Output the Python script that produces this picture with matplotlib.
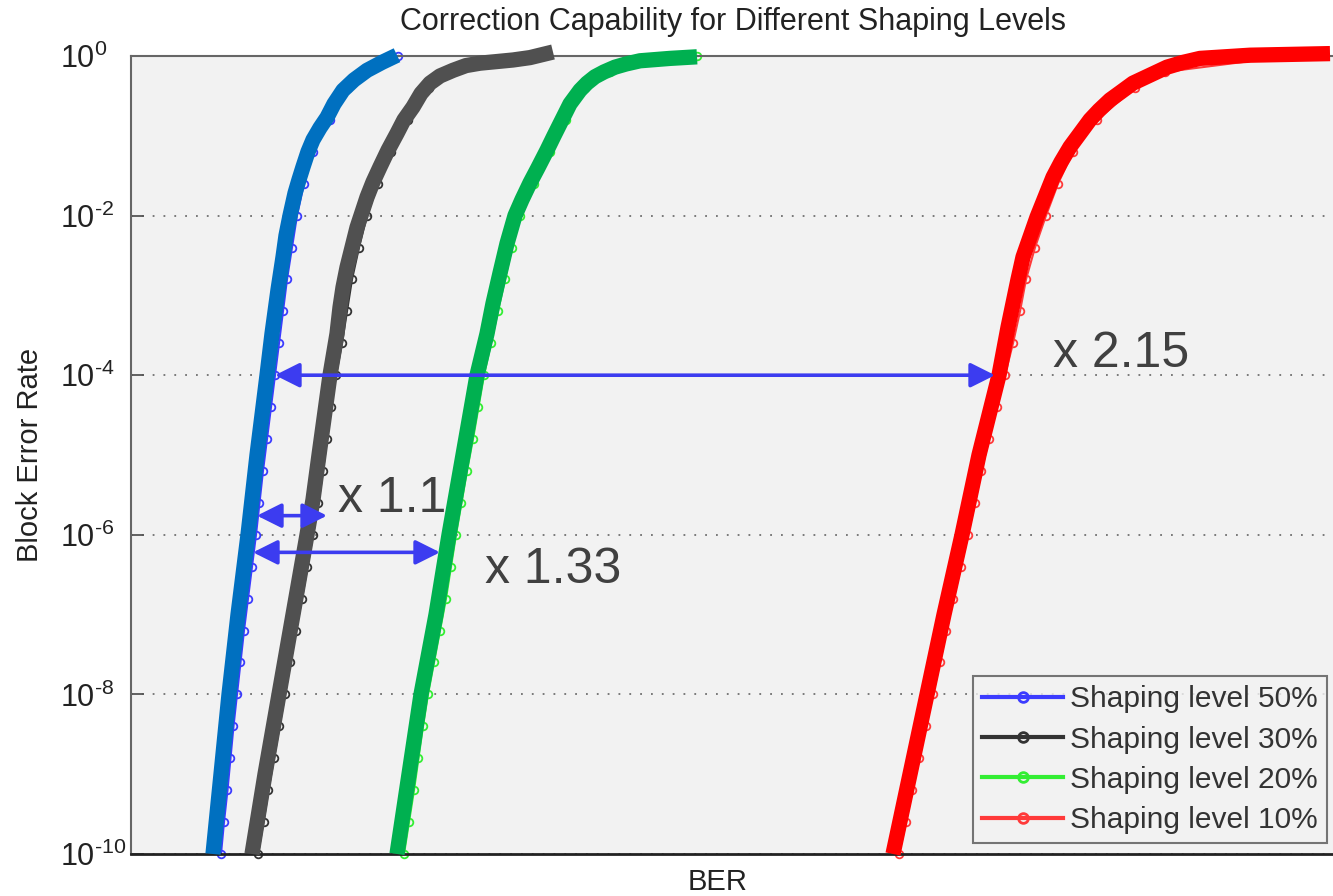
import numpy as np
import matplotlib
matplotlib.use("Agg")
import matplotlib.pyplot as plt

plt.rcParams['font.family'] = ['Liberation Sans', 'DejaVu Sans']
plt.rcParams['mathtext.fontset'] = 'custom'
plt.rcParams['mathtext.rm'] = 'Liberation Sans'
plt.rcParams['mathtext.it'] = 'Liberation Sans:italic'
plt.rcParams['mathtext.bf'] = 'Liberation Sans:bold'
plt.rcParams['axes.unicode_minus'] = False

# ---------------- data (BER in units of 1e-3, BLER as log10 exponent) ----------------
labels = ["Shaping level 50%", "Shaping level 30%", "Shaping level 20%", "Shaping level 10%"]

# measured points (thin line + circle markers)
meas_exp = [-10, -9.6, -9.2, -8.8, -8.4, -8.0, -7.6, -7.2, -6.8, -6.4, -6.0, -5.6, -5.2,
            -4.8, -4.4, -4.0, -3.6, -3.2, -2.8, -2.4, -2.0, -1.6, -1.2, -0.8, -0.4, -0.2, 0.0]
meas_50 = [5.81, 5.84, 5.875, 5.905, 5.935, 5.97, 6.005, 6.04, 6.08, 6.12, 6.16, 6.195, 6.23,
           6.27, 6.31, 6.35, 6.39, 6.43, 6.47, 6.52, 6.57, 6.64, 6.73, 6.90, 7.08, 7.22, 7.58]
meas_30 = [6.18, 6.235, 6.285, 6.34, 6.395, 6.45, 6.505, 6.56, 6.62, 6.675, 6.73, 6.785, 6.83,
           6.87, 6.91, 6.96, 7.02, 7.07, 7.12, 7.19, 7.27, 7.38, 7.51, 7.68, 7.89, 8.07, 8.90]
meas_20 = [7.64, 7.69, 7.74, 7.785, 7.83, 7.88, 7.94, 8.00, 8.06, 8.11, 8.16, 8.215, 8.27,
           8.33, 8.385, 8.44, 8.51, 8.58, 8.65, 8.72, 8.80, 8.94, 9.10, 9.26, 9.45, 9.70, 10.57]
meas_10 = [12.59, 12.66, 12.725, 12.795, 12.86, 12.93, 13.00, 13.065, 13.135, 13.21, 13.28, 13.35, 13.415,
           13.49, 13.57, 13.65, 13.73, 13.80, 13.86, 13.95, 14.06, 14.18, 14.33, 14.57, 14.95, 15.25, 16.50]

# fitted (thick) curves
fit50_exp = [0.01, -0.08, -0.18, -0.3, -0.43, -0.6, -0.77, -0.9, -1.05, -1.2, -1.39, -1.55,
             -1.72, -2.0, -2.25, -2.52, -2.93, -3.48, -4, -5, -6, -7, -8, -9, -10]
fit50_ber = [7.57, 7.42, 7.27, 7.14, 7.03, 6.94, 6.87, 6.80, 6.73, 6.68, 6.63, 6.59,
             6.55, 6.50, 6.46, 6.43, 6.38, 6.32, 6.27, 6.17, 6.08, 5.98, 5.89, 5.81, 5.73]
fit30_exp = [0.05, -0.02, -0.05, -0.09, -0.12, -0.18, -0.25, -0.34, -0.47, -0.64, -0.8, -0.97,
             -1.18, -1.39, -1.58, -1.77, -1.96, -2.15, -2.4, -2.65, -2.9, -3.15, -3.48, -4, -5,
             -5.56, -6, -7, -8, -9, -10]
fit30_ber = [9.13, 8.90, 8.73, 8.40, 8.26, 8.13, 8.00, 7.90, 7.81, 7.73, 7.64, 7.57,
             7.48, 7.40, 7.33, 7.27, 7.22, 7.17, 7.12, 7.07, 7.03, 7.00, 6.97, 6.90, 6.79,
             6.73, 6.67, 6.53, 6.39, 6.25, 6.12]
fit20_exp = [-0.01, -0.03, -0.06, -0.1, -0.14, -0.2, -0.26, -0.34, -0.43, -0.6, -0.8, -1.0,
             -1.18, -1.4, -1.59, -1.8, -2.0, -2.35, -2.72, -3.1, -3.48, -4, -5, -6, -7, -8, -9, -10]
fit20_ber = [10.57, 10.30, 10.00, 9.86, 9.75, 9.64, 9.55, 9.47, 9.40, 9.30, 9.22, 9.14,
             9.07, 8.98, 8.90, 8.82, 8.75, 8.67, 8.60, 8.53, 8.47, 8.37, 8.23, 8.09, 7.96, 7.81, 7.69, 7.57]
fit10_exp = [0.03, 0.02, 0.01, -0.01, -0.03, -0.08, -0.14, -0.24, -0.34, -0.45, -0.55, -0.68,
             -0.80, -0.97, -1.14, -1.33, -1.52, -1.77, -2.02, -2.27, -2.52, -2.8, -3.10, -3.40,
             -4, -5, -6, -7, -8, -9, -10]
fit10_ber = [16.90, 16.50, 16.10, 15.85, 15.60, 15.43, 15.27, 15.10, 14.93, 14.81, 14.70, 14.59,
             14.50, 14.40, 14.30, 14.21, 14.13, 14.05, 13.97, 13.90, 13.83, 13.78, 13.73, 13.68,
             13.59, 13.39, 13.22, 13.04, 12.87, 12.70, 12.53]

# annotations
arrows = [(6.35, 13.55, -4.0), (6.17, 6.87, -5.76), (6.13, 8.00, -6.22)]
notes = [("x 2.15", 14.13, -3.90), ("x 1.1", 6.98, -5.72), ("x 1.33", 8.45, -6.61)]

yticks_exp = [0, -2, -4, -6, -8, -10]

# ---------------- figure ----------------
W, H = 1333, 896
fig = plt.figure(figsize=(W / 100, H / 100), dpi=100)
left_px, right_px, top_px, bot_px = 131, 1345, 56, 854
ax = fig.add_axes([left_px / W, (H - bot_px) / H, (right_px - left_px) / W, (bot_px - top_px) / H])
ax.set_facecolor('#f2f2f2')
ax.set_yscale('log')
ax.set_ylim(1e-10, 1e0)
ax.set_xlim((left_px + 360) / 100, (right_px + 360) / 100)

meas_cols = ['#3c3cff', '#333333', '#33ee33', '#ff3a3a']
fit_cols = ['#0070c0', '#505050', '#00b050', '#ff0000']
meas = [meas_50, meas_30, meas_20, meas_10]
fits = [(fit50_ber, fit50_exp), (fit30_ber, fit30_exp), (fit20_ber, fit20_exp), (fit10_ber, fit10_exp)]

for m, c, lab in zip(meas, meas_cols, labels):
    ax.plot(m, 10.0 ** np.array(meas_exp), color=c, lw=1.5, marker='o', ms=5.5,
            mfc='none', mec=c, mew=1.3, label=lab, zorder=2, clip_on=False)
for (fx, fe), c in zip(fits, fit_cols):
    ax.plot(fx, 10.0 ** np.array(fe), color=c, lw=11, solid_capstyle='butt',
            solid_joinstyle='round', zorder=3, clip_on=False)

for x1, x2, e in arrows:
    ax.annotate('', xy=(x2, 10.0 ** e), xytext=(x1, 10.0 ** e),
                arrowprops=dict(arrowstyle='<|-|>,head_length=0.6,head_width=0.3',
                                color='#3c3cf0', lw=2.6, shrinkA=0, shrinkB=0,
                                mutation_scale=25), zorder=4)
for t, x, e in notes:
    ax.text(x, 10.0 ** e, t, fontsize=36, color='#404040', ha='left', va='baseline', zorder=4)

ax.set_yticks([10.0 ** e for e in yticks_exp])
ax.set_yticklabels([r'$10^{\text{%d}}$' % e for e in yticks_exp])
ax.yaxis.set_minor_locator(matplotlib.ticker.NullLocator())
ax.set_xticks([])
ax.tick_params(axis='y', direction='in', length=9, width=1.3, color='#555555',
               labelsize=22, labelcolor='#222222', pad=(left_px - 60) / 1.389, right=False)
for lbl in ax.get_yticklabels():
    lbl.set_horizontalalignment('left')
ax.grid(True, axis='y', color='#707070', lw=1.3, linestyle=(0, (1, 5)))
ax.set_axisbelow(True)

for s in ['left', 'top']:
    ax.spines[s].set_color('#666666')
    ax.spines[s].set_linewidth(1.5)
ax.spines['bottom'].set_color('#222222')
ax.spines['bottom'].set_linewidth(2)
ax.spines['right'].set_visible(False)

ax.set_ylabel('Block Error Rate', fontsize=21, color='#222222', va='center')
ax.yaxis.set_label_coords((30 - left_px) / (right_px - left_px), 0.5)
ax.set_xlabel('BER', fontsize=21, color='#222222', va='center')
ax.xaxis.set_label_coords((718 - left_px) / (right_px - left_px), (bot_px - 882) / (bot_px - top_px))

fig.text(733 / W, 1 - 22 / H, 'Correction Capability for Different Shaping Levels',
         fontsize=22, color='#222222', ha='center', va='center')

leg = ax.legend(loc='lower right', bbox_to_anchor=(1327 / W, (H - 843) / H),
                bbox_transform=fig.transFigure, fontsize=21.5, frameon=True, fancybox=False,
                borderaxespad=0, handlelength=2.7, handletextpad=0.25, labelspacing=0.41,
                borderpad=0.3, numpoints=1)
leg.get_frame().set_edgecolor('#555555')
leg.get_frame().set_linewidth(1.5)
leg.get_frame().set_facecolor('#f2f2f2')
for t in leg.get_texts():
    t.set_color('#333333')
for h in leg.legend_handles:
    h.set_linewidth(3)
    h.set_markersize(7)
    h.set_markeredgewidth(2)
leg.set_zorder(10)

fig.savefig('out.png', dpi=100)
